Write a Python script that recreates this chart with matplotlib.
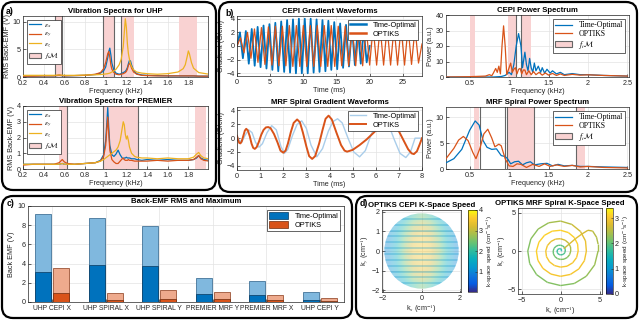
import numpy as np
import matplotlib
matplotlib.use('Agg')
import matplotlib.pyplot as plt
from matplotlib.patches import FancyBboxPatch, Patch, Circle
from matplotlib.collections import LineCollection
from matplotlib.colors import LinearSegmentedColormap, Normalize
from matplotlib.cm import ScalarMappable
from matplotlib.transforms import IdentityTransform

plt.rcParams['font.family'] = ['Liberation Sans', 'DejaVu Sans']
plt.rcParams['mathtext.fontset'] = 'stix'

# ---------------- DATA ----------------
# Panel a: vibration spectra (frequency in kHz, RMS back-EMF in V)
f_uhp = [0.20,0.30,0.40,0.50,0.55,0.60,0.70,0.80,0.90,0.95,0.98,1.00,1.02,1.03,1.04,1.05,1.06,1.08,1.10,1.13,
         1.15,1.17,1.18,1.19,1.20,1.21,1.22,1.23,1.24,1.25,1.27,1.30,1.35,1.40,1.50,1.60,1.70,1.75,1.77,1.79,
         1.80,1.81,1.83,1.85,1.90,2.00]
ex_uhp = [0.15,0.15,0.2,0.2,0.3,0.2,0.25,0.3,0.45,0.7,1.1,1.8,3.5,4.6,5.2,4.0,2.5,1.2,0.7,0.5,
          0.6,0.8,0.9,1.0,1.3,1.7,2.4,3.0,2.9,2.2,1.2,0.6,0.35,0.3,0.25,0.2,0.2,0.2,0.2,0.2,
          0.2,0.2,0.2,0.2,0.15,0.15]
ey_uhp = [0.15,0.15,0.2,0.2,0.35,0.2,0.25,0.3,0.5,0.8,1.5,2.6,4.2,4.6,3.6,2.2,1.4,0.8,0.5,0.4,
          0.5,0.6,0.7,0.8,1.0,1.4,2.1,2.5,2.2,1.6,0.9,0.5,0.3,0.25,0.2,0.2,0.2,0.2,0.2,0.2,
          0.2,0.2,0.2,0.2,0.15,0.15]
ez_uhp = [0.3,0.3,0.3,0.3,0.35,0.3,0.3,0.35,0.4,0.45,0.5,0.55,0.6,0.65,0.7,0.8,0.9,1.1,1.4,2.2,
          3.2,5.5,8.0,10.5,9.0,6.0,4.2,3.2,2.4,1.9,1.3,0.9,0.7,0.6,0.5,0.6,0.9,1.5,2.2,3.8,
          4.7,4.2,2.6,1.6,0.8,0.5]
f_pre = [0.20,0.30,0.40,0.50,0.55,0.58,0.60,0.63,0.70,0.80,0.90,0.95,0.98,1.00,1.01,1.02,1.03,1.04,1.06,1.08,
         1.10,1.12,1.14,1.16,1.17,1.18,1.19,1.20,1.21,1.22,1.23,1.25,1.28,1.30,1.35,1.40,1.50,1.60,1.70,1.80,
         1.85,1.88,1.90,1.92,1.95,2.00]
ex_pre = [0.3,0.3,0.3,0.3,0.3,0.35,0.3,0.3,0.3,0.35,0.4,0.55,0.9,1.8,2.8,3.9,2.6,1.5,0.9,0.8,
          0.95,1.2,0.9,0.7,0.65,0.7,0.7,0.75,0.7,0.7,0.7,0.65,0.65,0.6,0.55,0.6,0.55,0.6,0.55,0.55,
          0.6,0.7,0.85,0.7,0.6,0.55]
ey_pre = [0.25,0.3,0.3,0.3,0.4,0.6,0.45,0.35,0.3,0.35,0.4,0.5,0.8,1.5,2.4,3.3,2.2,1.2,0.6,0.45,
          0.35,0.35,0.5,0.65,0.7,0.6,0.55,0.55,0.55,0.6,0.55,0.55,0.5,0.5,0.5,0.5,0.55,0.5,0.55,0.55,
          0.6,0.75,0.85,0.65,0.55,0.5]
ez_pre = [0.3,0.3,0.3,0.3,0.3,0.35,0.3,0.3,0.3,0.35,0.4,0.5,0.6,0.7,0.75,0.8,0.85,0.9,1.0,1.1,
          1.2,1.4,1.8,2.6,3.0,2.8,2.2,1.9,2.1,1.8,1.4,1.0,0.8,0.75,0.7,0.7,0.65,0.7,0.65,0.65,
          0.75,0.95,1.05,0.85,0.7,0.65]
bands_uhp = [(0.51, 0.575), (0.97, 1.085), (1.15, 1.27), (1.71, 1.88)]
glines_uhp = [0.51, 0.575, 0.97, 1.085, 1.15]
bands_pre = [(0.55, 0.63), (0.97, 1.31), (1.86, 1.97)]
glines_pre = [0.63, 0.97, 1.31]
bands_cepi = [(0.51, 0.57), (0.98, 1.09), (1.15, 1.28)]
glines_cepi = [1.09, 1.15]
bands_mrf = [(0.55, 0.62), (0.97, 1.31), (1.85, 1.96)]
glines_mrf = [0.63, 0.95, 0.97, 1.31, 1.85]

# Panel b: CEPI gradient waveform extrema (G/cm)
to_cepi_dur = 20.0
to_cepi_peaks = [2.0,2.2,2.5,2.8,3.0,3.2,3.4,3.6,3.8,3.9,4.0,4.0,4.0,3.9,3.8,3.7,3.5,3.3,3.1,2.9,2.7,2.4]
to_cepi_troughs = [-1.8,-2.6,-2.9,-3.1,-3.3,-3.5,-3.7,-3.8,-3.9,-4.0,-4.0,-4.0,-3.9,-3.8,-3.7,-3.5,-3.4,-3.2,-3.0,-2.8,-2.6,-2.4]
op_cepi_dur = 27.9
op_cepi_peaks = [1.2,2.0,2.5,2.7,2.8,2.9,2.9,3.0,3.0,3.0,3.0,3.0,3.0,3.0,2.9,2.9,2.9,2.9,2.8,2.8,2.8,2.8,2.8,2.8,2.8,2.6]
op_cepi_troughs = [-1.0,-1.8,-2.4,-2.7,-2.8,-2.9,-2.9,-3.0,-3.0,-3.0,-3.0,-3.0,-3.0,-3.0,-2.9,-2.9,-2.9,-2.9,-2.8,-2.8,-2.8,-2.8,-2.8,-2.8,-2.7,-2.5]

# Panel b: MRF spiral gradient waveforms (ms, G/cm)
t_op_mrf = [0,0.05,0.1,0.15,0.2,0.28,0.34,0.4,0.47,0.55,0.63,0.7,0.77,0.85,0.95,1.05,1.15,1.25,1.35,1.45,
            1.6,1.75,1.88,2.0,2.1,2.2,2.33,2.45,2.6,2.72,2.85,3.0,3.12,3.25,3.38,3.55,3.7,3.83,3.96,4.1,
            4.3,4.5,4.65,4.76,5.0,5.3,5.6,5.85,6.07,6.3,6.55,6.8,7.0,7.2,7.4,7.55,7.65,7.78,7.9,8.0]
g_op_mrf = [0.33,-0.3,-0.7,-0.75,-0.5,0.4,1.1,1.35,1.1,0.3,-0.8,-1.4,-1.55,-1.3,-0.5,0.5,1.2,1.55,1.6,1.45,
            0.6,-0.6,-1.8,-2.1,-1.8,-0.8,0.9,2.2,2.7,2.3,0.8,-1.2,-2.6,-3.0,-2.6,-0.8,1.2,2.8,3.25,2.7,
            0.8,-1.0,-1.8,-1.95,-1.7,-1.0,-0.2,0.6,1.3,2.0,2.3,1.9,1.0,-0.3,-1.6,-2.2,-2.3,-1.9,-0.9,0.0]
t_to_mrf = [0,0.1,0.2,0.35,0.5,0.65,0.8,0.95,1.1,1.3,1.5,1.7,1.9,2.05,2.2,2.4,2.6,2.8,3.0,3.2,
            3.45,3.7,3.95,4.15,4.35,4.55,4.8,5.05,5.3,5.55,5.8,6.05,6.3,6.55,6.8,7.05,7.3,7.5,7.7,8.0]
g_to_mrf = [0.3,-0.3,-0.6,0.4,1.2,0.8,-0.6,-1.3,-0.8,0.8,1.8,1.2,-1.2,-2.2,-1.6,0.4,2.0,2.5,1.4,-1.0,
            -2.7,-1.5,1.0,2.4,2.8,2.2,0.0,-2.0,-2.7,-1.8,0.5,2.3,2.9,2.0,-0.2,-2.2,-2.8,-2.0,0.0,0.0]

# Panel b: power spectra (kHz, a.u.)
f_cepi_op = [0.2,0.5,0.6,0.7,0.75,0.78,0.8,0.83,0.85,0.87,0.89,0.91,0.93,0.95,0.97,1.0,1.02,1.04,1.06,1.08,
             1.1,1.12,1.14,1.16,1.18,1.2,1.22,1.25,1.28,1.31,1.34,1.38,1.42,1.46,1.5,1.55,1.6,1.65,1.7,1.8,
             1.9,2.0,2.2,2.5]
p_cepi_op = [0.0,0.2,0.4,0.6,1.5,0.8,2.5,5.5,3.0,7.0,2.0,20,33,20,1.5,6,9,3,5,6,
             2,5,5.5,2,4.5,4.5,1.5,4,1.5,3.5,1.5,3,1.2,2.6,1.2,2.3,1.0,2.0,1.0,1.7,
             1.2,1.4,1.0,0.6]
f_cepi_to = [0.2,0.8,0.9,0.95,1.0,1.03,1.06,1.09,1.12,1.15,1.17,1.2,1.22,1.24,1.26,1.28,1.3,1.32,1.34,1.37,
             1.4,1.42,1.45,1.48,1.52,1.55,1.6,1.65,1.7,1.8,1.9,2.0,2.2,2.5]
p_cepi_to = [0,0,0.3,1,3,1.5,8,20,28,20,6,16,8,4,12,6,3,9,4,7,
             3,6,2.5,5,2.5,4,2,3,1.5,2.2,1.5,1.5,1.0,0.6]
f_mrf_to = [0.2,0.3,0.4,0.5,0.57,0.62,0.67,0.72,0.78,0.84,0.9,0.95,0.98,1.02,1.07,1.12,1.17,1.22,1.27,1.32,
            1.4,1.48,1.55,1.62,1.7,1.8,1.9,2.0,2.2,2.5]
p_mrf_to = [1.2,2.0,3.8,7.5,9.3,8.5,5.5,4.2,3.8,3.9,2.6,2.4,2.0,1.0,1.4,1.5,0.8,1.2,1.4,0.8,
            1.0,1.1,0.6,0.9,0.6,0.7,0.5,0.5,0.4,0.3]
f_mrf_op = [0.2,0.3,0.36,0.42,0.48,0.54,0.58,0.63,0.68,0.73,0.78,0.82,0.87,0.9,0.95,1.0,1.05,1.1,1.15,1.22,
            1.3,1.38,1.45,1.52,1.6,1.7,1.8,1.9,2.0,2.2,2.5]
p_mrf_op = [2.0,4.0,5.6,6.3,5.5,3.2,2.0,4.0,6.8,7.7,6.0,4.3,4.8,4.5,2.0,0.6,0.5,1.0,0.9,0.3,
            0.9,0.5,1.0,0.5,0.8,0.5,0.7,0.4,0.5,0.3,0.2]

# Panel c: back-EMF (V)
categories = ['UHP CEPI X', 'UHP SPIRAL X', 'UHP SPIRAL Y', 'PREMIER MRF Y', 'PREMIER MRF X', 'UHP CEPI Y']
to_max = [9.2, 8.8, 7.9, 2.55, 2.15, 1.0]
to_rms = [3.15, 3.85, 3.75, 0.8, 0.7, 0.25]
op_max = [3.5, 0.9, 1.25, 1.0, 0.75, 0.45]
op_rms = [0.95, 0.2, 0.3, 0.3, 0.25, 0.15]

# Panel d: OPTIKS CEPI k-space speed (rows ky -1.9..1.9, cols kx -1.9..1.9)
cepi_speed = [
    [0.8,1.0,1.4,2.0,2.4,2.0,1.4,1.0,0.8],
    [0.9,1.3,2.0,2.8,3.1,2.8,2.0,1.3,0.9],
    [1.0,1.5,2.4,3.1,3.4,3.1,2.4,1.5,1.0],
    [1.0,1.6,2.6,3.3,3.5,3.3,2.6,1.6,1.0],
    [1.0,1.7,2.7,3.4,3.6,3.4,2.7,1.7,1.0],
    [1.0,1.6,2.6,3.3,3.5,3.3,2.6,1.6,1.0],
    [1.0,1.5,2.4,3.1,3.4,3.1,2.4,1.5,1.0],
    [0.9,1.3,2.0,2.8,3.1,2.8,2.0,1.3,0.9],
    [0.8,1.0,1.4,2.0,2.4,2.0,1.4,1.0,0.8]]
cepi_stripes_ky = [-1.65,-1.35,-1.05,-0.75,-0.45,-0.15,0.15,0.45,0.75,1.05,1.35,1.65]
# Panel d: MRF spiral (polar samples every 22.5 deg, radius in cm^-1, speed)
spiral_step_deg = 22.5
spiral_r = [0.05,0.12,0.18,0.24,0.3,0.34,0.38,0.42,0.45,0.47,0.48,0.49,0.5,0.53,0.55,0.58,
            0.6,0.64,0.68,0.71,0.75,0.8,0.85,0.9,0.95,0.99,1.03,1.07,1.1,1.15,1.2,1.25,
            1.3,1.38,1.45,1.52,1.6,1.68,1.75,1.83,1.9,1.95,2.0,2.05,2.1,2.14,2.18,2.22,
            2.25,2.36,2.48,2.6,2.7,2.8,2.9,3.0,3.1,3.15,3.2,3.25,3.3,3.3,3.3,3.3,
            3.3,3.45,3.6,3.75,3.9,3.98,4.05,4.12,4.2,4.28,4.35,4.42,4.5,4.58,4.65,4.72,4.8]
spiral_speed = [1.5,1.5,1.55,1.6,1.6,1.65,1.7,1.7,1.75,1.75,1.8,1.8,1.8,1.85,1.85,1.9,
                1.9,1.95,1.95,2.0,2.0,2.0,2.0,2.05,2.05,2.1,2.1,2.15,2.2,2.2,2.25,2.3,
                2.4,2.5,2.6,2.7,2.8,2.85,2.9,2.95,3.0,3.0,3.0,3.0,3.0,3.0,3.0,3.05,
                3.1,3.1,3.1,3.1,3.1,3.1,3.1,3.1,3.1,3.05,3.0,3.0,3.0,3.0,3.0,2.95,
                2.9,2.8,2.65,2.5,2.4,2.3,2.25,2.2,2.2,2.2,2.2,2.2,2.2,2.25,2.3,2.35,2.4]
ret_kx = [4.8, 4.6, 4.1, 3.5, 2.7, 1.9, 1.1, 0.4]
ret_ky = [0.9, 1.8, 2.6, 2.7, 2.2, 1.6, 0.9, 0.3]
ret_speed = [2.45, 2.5, 2.6, 2.7, 2.8, 2.75, 2.6, 2.4]

parula_colors = [(0.208,0.166,0.529),(0.016,0.357,0.884),(0.059,0.466,0.855),(0.024,0.598,0.811),
                 (0.031,0.680,0.745),(0.180,0.735,0.620),(0.402,0.763,0.455),(0.640,0.748,0.311),
                 (0.850,0.733,0.196),(0.988,0.787,0.183),(0.976,0.984,0.055)]

# ---------------- STYLE ----------------
C_TO = '#0072BD'; C_OP = '#D95319'; C_EZ = '#EDB120'
PINK = '#f9d2d2'; GRAYL = '#666666'
W, H = 640, 320
parula = LinearSegmentedColormap.from_list('parula', parula_colors)
TK = 5.2   # tick label size
LS = 5.2   # axis label size

fig = plt.figure(figsize=(6.4, 3.2), dpi=100)

def add_ax(l, t, r, b):
    return fig.add_axes([l / W, 1 - b / H, (r - l) / W, (b - t) / H])

def style(ax, grid=True):
    ax.tick_params(direction='in', length=2, width=0.5, labelsize=TK, colors='#262626', pad=1.5)
    ax.tick_params(axis='x', pad=2.3)
    for s in ax.spines.values():
        s.set_linewidth(0.5); s.set_color('#262626')
    if grid:
        ax.grid(True, color='#e3e3e3', lw=0.5)
    ax.set_axisbelow(True)

def shade(ax, spans, glines):
    for a, b in spans:
        ax.axvspan(a, b, color=PINK, lw=0, zorder=0.6)
    for g in glines:
        ax.axvline(g, color=GRAYL, lw=0.8, zorder=0.7)

def box(l, t, r, b):
    p = FancyBboxPatch((l, H - b), r - l, b - t, boxstyle='round,pad=0,rounding_size=11',
                       transform=IdentityTransform(), fill=False, ec='black', lw=1.6)
    fig.patches.append(p)

def labels(ax, xl, yl, ypad=1):
    ax.set_xlabel(xl, fontsize=LS, labelpad=0.5, color='#262626')
    ax.set_ylabel(yl, fontsize=LS, labelpad=ypad, color='#262626')

TS = dict(fontsize=5.6, fontweight='bold', pad=2)

box(2, 2, 216, 190)
box(219, 2, 637, 192)
box(2, 196, 352, 318)
box(356, 196, 637, 318)
for txt, x, y in [('a)', 6, 11), ('b)', 225, 13), ('c)', 7, 204), ('d)', 360, 204)]:
    fig.text(x / W, 1 - y / H, txt, fontsize=6.3, fontweight='bold', va='center')

fm_patch = Patch(facecolor=PINK, edgecolor=GRAYL, lw=0.8, label='$f_t\\mathcal{M}$')

# ---- Panel a ----
for (t, b, title, f, ex, ey, ez, sp, gl, ylim, yt) in [
        (16, 77, 'Vibration Spectra for UHP', f_uhp, ex_uhp, ey_uhp, ez_uhp, bands_uhp, glines_uhp, (0, 11), [0, 5, 10]),
        (106, 169, 'Vibration Spectra for PREMIER', f_pre, ex_pre, ey_pre, ez_pre, bands_pre, glines_pre, (0, 4), [0, 1, 2, 3, 4])]:
    ax = add_ax(23, t, 208, b)
    style(ax)
    shade(ax, sp, gl)
    ax.plot(f, ex, color=C_TO, lw=0.9, label='$\\varepsilon_x$', zorder=3)
    ax.plot(f, ey, color=C_OP, lw=0.9, label='$\\varepsilon_y$', zorder=3)
    ax.plot(f, ez, color=C_EZ, lw=0.9, label='$\\varepsilon_z$', zorder=3)
    ax.set_xlim(0.2, 1.99); ax.set_ylim(*ylim)
    ax.set_xticks([0.2, 0.4, 0.6, 0.8, 1.0, 1.2, 1.4, 1.6, 1.8])
    ax.set_xticklabels(['0.2', '0.4', '0.6', '0.8', '1', '1.2', '1.4', '1.6', '1.8'])
    ax.set_yticks(yt)
    ax.set_title(title, **TS)
    labels(ax, 'Frequency (kHz)', 'RMS Back-EMF (V)')
    h, l = ax.get_legend_handles_labels()
    ax.legend(h + [fm_patch], l + [fm_patch.get_label()], loc='upper left', fontsize=5.3,
              handlelength=1.6, labelspacing=0.12, borderpad=0.3, framealpha=1, fancybox=False,
              edgecolor='#262626', handletextpad=0.4).get_frame().set_linewidth(0.5)

# ---- Panel b: CEPI gradient ----
ax = add_ax(237, 16, 422, 76)
style(ax)
to_vals = [0.0] + [v for pair in zip(to_cepi_peaks, to_cepi_troughs) for v in pair] + [0.0]
op_vals = [0.0] + [v for pair in zip(op_cepi_peaks, op_cepi_troughs) for v in pair] + [0.3]
ax.plot(np.linspace(0, to_cepi_dur, len(to_vals)), to_vals, color=C_TO, lw=1.3, label='Time-Optimal')
ax.plot(np.linspace(0, op_cepi_dur, len(op_vals)), op_vals, color=C_OP, lw=0.9, label='OPTIKS')
ax.set_xlim(0, 27.9); ax.set_ylim(-4.4, 4.4)
ax.set_xticks([0, 5, 10, 15, 20, 25]); ax.set_yticks([-4, -2, 0, 2, 4])
ax.set_title('CEPI Gradient Waveforms', **TS)
labels(ax, 'Time (ms)', 'Gradient (G/cm)')
lg = ax.legend(loc='upper right', fontsize=5.3, handlelength=2.2, labelspacing=0.2, borderpad=0.3,
               framealpha=1, fancybox=False, edgecolor='#262626')
lg.get_frame().set_linewidth(0.5)
for ln in lg.get_lines():
    ln.set_linewidth(1.8)

# ---- Panel b: MRF gradient ----
ax = add_ax(237, 107, 422, 170)
style(ax)
ax.plot(t_to_mrf, g_to_mrf, color='#a9cdea', lw=1.0, label='Time-Optimal')
ax.plot(t_op_mrf, g_op_mrf, color=C_OP, lw=1.4, label='OPTIKS')
ax.set_xlim(0, 8); ax.set_ylim(-4.6, 4.5)
ax.set_xticks(range(9)); ax.set_yticks([-4, -2, 0, 2, 4])
ax.set_title('MRF Spiral Gradient Waveforms', **TS)
labels(ax, 'Time (ms)', 'Gradient (G/cm)')
lg = ax.legend(loc='upper right', fontsize=5.3, handlelength=2.2, labelspacing=0.2, borderpad=0.3,
               framealpha=1, fancybox=False, edgecolor='#262626')
lg.get_frame().set_linewidth(0.5)

# ---- Panel b: power spectra ----
SERIF = {'family': 'Liberation Serif', 'size': 5.6}
for (t, b, title, fto, pto, fop, pop, sp, gl, ylim, yt) in [
        (15, 77, 'CEPI Power Spectrum', f_cepi_to, p_cepi_to, f_cepi_op, p_cepi_op, bands_cepi, glines_cepi, (0, 40), [0, 10, 20, 30, 40]),
        (107, 169, 'MRF Spiral Power Spectrum', f_mrf_to, p_mrf_to, f_mrf_op, p_mrf_op, bands_mrf, glines_mrf, (0, 12), [0, 5, 10])]:
    ax = add_ax(446, t, 629, b)
    style(ax)
    shade(ax, sp, gl)
    ax.plot(fto, pto, color=C_TO, lw=0.9, label='Time-Optimal', zorder=3)
    ax.plot(fop, pop, color=C_OP, lw=0.9, label='OPTIKS', zorder=3)
    ax.set_xlim(0.2, 2.52); ax.set_ylim(*ylim)
    ax.set_xticks([0.5, 1, 1.5, 2, 2.5]); ax.set_xticklabels(['0.5', '1', '1.5', '2', '2.5'])
    ax.set_yticks(yt)
    ax.set_title(title, **TS)
    labels(ax, 'Frequency (kHz)', 'Power (a.u.)')
    h, l = ax.get_legend_handles_labels()
    ax.legend(h + [fm_patch], l + [fm_patch.get_label()], loc='upper right', prop=SERIF,
              handlelength=2.2, labelspacing=0.1, borderpad=0.3, framealpha=1, fancybox=False,
              edgecolor='#262626').get_frame().set_linewidth(0.5)

# ---- Panel c ----
ax = add_ax(28, 206, 344, 302)
style(ax)
x = np.arange(len(categories))
w, off = 0.3, 0.17
ax.bar(x - off, to_max, w, color='#80b8de', edgecolor='#2a5f88', lw=0.5, zorder=2)
ax.bar(x - off, to_rms, w, color=C_TO, edgecolor='#06385e', lw=0.5, zorder=3, label='Time-Optimal')
ax.bar(x + off, op_max, w, color='#eeaa8d', edgecolor='#8a3a1a', lw=0.5, zorder=2)
ax.bar(x + off, op_rms, w, color=C_OP, edgecolor='#6e2a0c', lw=0.5, zorder=3, label='OPTIKS')
ax.set_xlim(-0.45, 5.45); ax.set_ylim(0, 10)
ax.set_xticks(x); ax.set_xticklabels(categories, fontsize=4.9)
ax.set_yticks([0, 2, 4, 6, 8, 10])
ax.set_title('Back-EMF RMS and Maximum', **TS)
ax.set_ylabel('Back EMF (V)', fontsize=LS, labelpad=2, color='#262626')
ax.legend(loc='upper right', fontsize=5.3, handlelength=2.6, handleheight=1.2, labelspacing=0.1,
          borderpad=0.3, framealpha=1, fancybox=False, edgecolor='#262626').get_frame().set_linewidth(0.5)

# ---- Panel d: CEPI k-space speed ----
ax = add_ax(382, 210, 461, 292)
style(ax)
im = ax.imshow(np.array(cepi_speed), extent=(-1.95, 1.95, -1.95, 1.95), origin='lower', cmap=parula,
               vmin=0, vmax=4, alpha=0.4, interpolation='bilinear', zorder=2, aspect='auto')
im.set_clip_path(Circle((0, 0), 1.93, transform=ax.transData))
for yk in cepi_stripes_ky:
    ln, = ax.plot([-2, 2], [yk, yk], color=parula(0.3), alpha=0.35, lw=1.1, zorder=3)
    ln.set_clip_path(Circle((0, 0), 1.93, transform=ax.transData))
ax.set_xlim(-2.05, 2.05); ax.set_ylim(-2.1, 2.1)
ax.set_xticks([-2, 0, 2]); ax.set_yticks([-2, -1, 0, 1, 2])
ax.set_title('OPTIKS CEPI K-Space Speed', **TS)
labels(ax, 'k$_x$ (cm$^{-1}$)', 'k$_y$ (cm$^{-1}$)', ypad=0.5)
cax = add_ax(468, 210, 477, 292)
cb = fig.colorbar(ScalarMappable(Normalize(0, 4), parula), cax=cax)
cb.set_ticks([1, 2, 3, 4])
cb.ax.tick_params(labelsize=TK, length=1.5, width=0.4, direction='in', pad=1.2, colors='#262626')
cb.outline.set_linewidth(0.4)
cb.set_label('k-space speed (cm$^{-1}$s$^{-1}$)', fontsize=4.6, labelpad=0.8, color='#262626')

# ---- Panel d: MRF spiral ----
ax = add_ax(518, 208, 602, 294)
style(ax)
theta = np.deg2rad(np.arange(len(spiral_r)) * spiral_step_deg)
kx = list(np.array(spiral_r) * np.cos(theta)) + ret_kx
ky = list(np.array(spiral_r) * np.sin(theta)) + ret_ky
spd = spiral_speed + ret_speed
pts = np.column_stack([kx, ky])
segs = np.stack([pts[:-1], pts[1:]], axis=1)
lc = LineCollection(segs, cmap=parula, norm=Normalize(0, 3.4), lw=1.0, zorder=3)
lc.set_array(np.array(spd[:-1]))
ax.add_collection(lc)
ax.set_xlim(-5.45, 5.3); ax.set_ylim(-5.6, 5.6)
ax.set_xticks([-5, 0, 5]); ax.set_yticks([-5, 0, 5])
ax.set_title('OPTIKS MRF Spiral K-Space Speed', **TS)
labels(ax, 'k$_x$ (cm$^{-1}$)', 'k$_y$ (cm$^{-1}$)', ypad=0)
cax = add_ax(606, 208, 613, 294)
cb = fig.colorbar(ScalarMappable(Normalize(0, 3.4), parula), cax=cax)
cb.set_ticks([0, 1, 2, 3])
cb.ax.tick_params(labelsize=TK, length=1.5, width=0.4, direction='in', pad=1.2, colors='#262626')
cb.outline.set_linewidth(0.4)
cb.set_label('k-space speed (cm$^{-1}$s$^{-1}$)', fontsize=4.6, labelpad=0.8, color='#262626')

fig.savefig('out.png', dpi=100)
